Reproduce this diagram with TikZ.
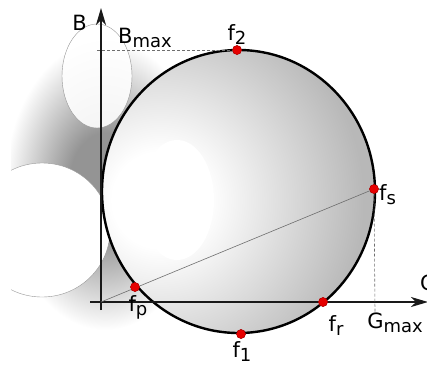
\documentclass[tikz,border=0pt]{standalone}
\usepackage{fontspec}
\setmainfont{DejaVu Sans}
\usepackage{tikz}
\usetikzlibrary{
  arrows.meta,
  positioning,
  calc
}
\definecolor{axiscolor}{RGB}{25, 25, 25}
\definecolor{guidecolor}{RGB}{110, 110, 110}
\definecolor{rimcolor}{RGB}{0, 0, 0}
\definecolor{dotcolor}{RGB}{230, 0, 0}
\definecolor{shadowcolor}{RGB}{148, 148, 148}
\definecolor{discgray}{RGB}{184, 184, 184}
\definecolor{outlinecolor}{RGB}{150, 150, 150}
\pgfdeclareradialshading{shadowfade}{\pgfpoint{0bp}{0bp}}{%
  color(0bp)=(shadowcolor); color(9bp)=(shadowcolor);
  color(25bp)=(white); color(50bp)=(white)}
\pgfdeclareradialshading{discfade}{\pgfpoint{0bp}{0bp}}{%
  color(0bp)=(white); color(4bp)=(white);
  color(17bp)=(discgray); color(50bp)=(discgray)}
\newcommand{\lbl}[2]{#1\raisebox{-4pt}{\fontsize{18}{18}\selectfont #2}}
\tikzset{
axis/.style={
  -{Stealth[length=17pt,width=10pt,inset=5pt]},
  line width=1.3pt,
  draw=axiscolor
},
guide/.style={
  draw=guidecolor,
  line width=0.6pt,
  dash pattern=on 3pt off 2pt
},
chord/.style={
  draw=guidecolor,
  line width=0.6pt
},
rim/.style={
  draw=rimcolor,
  line width=2.4pt
},
dot/.style={
  circle,
  fill=dotcolor,
  draw=dotcolor!70!black,
  line width=0.3pt,
  inner sep=0pt,
  minimum size=9pt
},
blob/.style={
  fill=white,
  draw=outlinecolor,
  line width=0.4pt
},
ptlabel/.style={
  font=\fontsize{21}{23}\selectfont,
  text=black,
  inner sep=1pt
}
}

\begin{document}
\begin{tikzpicture}[x=1pt,y=-1pt]
  \useasboundingbox (0,0) rectangle (427,370);

  % shadow behind the disc
  \begin{scope}
    \clip (11,0) rectangle (427,370);
    \shade[shading=shadowfade] (105,185) ellipse [x radius=100, y radius=145];
    \draw[blob, fill opacity=0.9] (97,76) ellipse [x radius=35, y radius=52];
    \draw[blob] (42,230) ellipse [x radius=68, y radius=67];
  \end{scope}

  % disc
  \begin{scope}
    \clip (238.5,191.5) ellipse [x radius=136.5, y radius=141.5];
    \shade[shading=discfade] (160,200) circle [radius=300];
    \fill[white] (177,200) ellipse [x radius=37, y radius=60];
  \end{scope}
  \draw[rim] (238.5,191.5) ellipse [x radius=136.5, y radius=141.5];

  % axes
  \coordinate (origin) at (101,302);
  \coordinate (btip) at (101,8);
  \coordinate (gtip) at (428,302);
  \coordinate (bmax) at (97,50);
  \coordinate (gmax) at (375,313);
  \draw[axis] (101,310) -- (btip);
  \draw[axis] (90,302) -- (gtip);

  % points on the rim
  \node[dot] (f2) at (237,50) {};
  \node[dot] (f1) at (241,334) {};
  \node[dot] (fs) at (374,189) {};
  \node[dot] (fr) at (323,302) {};
  \node[dot] (fp) at (135,287) {};

  \draw[guide] (bmax) -- (f2);
  \draw[guide] (fs) -- (gmax);
  \draw[chord] (origin) -- (fs);
  \foreach \p in {f2,f1,fs,fr,fp}
    \node[dot] at (\p) {};

  % labels
  \node[ptlabel, anchor=south] (f2lbl) at ($(f2)+(0,-4)$) {\lbl{f}{2}};
  \node[ptlabel, anchor=north] (f1lbl) at ($(f1)+(1,6)$) {\lbl{f}{1}};
  \node[ptlabel, anchor=west] (fslbl) at ($(fs)+(4,6)$) {\lbl{f}{s}};
  \node[ptlabel, anchor=north] (frlbl) at ($(fr)+(13,12)$) {\lbl{f}{r}};
  \node[ptlabel, anchor=north] (fplbl) at ($(fp)+(3,7)$) {\lbl{f}{p}};
  \node[ptlabel, anchor=south west] (bmaxlbl) at ($(bmax)+(20,-1)$) {\lbl{B}{max}};
  \node[ptlabel, anchor=north] (gmaxlbl) at ($(gmax)+(20,-1)$) {\lbl{G}{max}};
  \node[ptlabel, anchor=east] (blbl) at ($(btip)+(-13,15)$) {B};
  \node[ptlabel, anchor=west] (glbl) at ($(gtip)+(-9,-19)$) {G};
\end{tikzpicture}
\end{document}
